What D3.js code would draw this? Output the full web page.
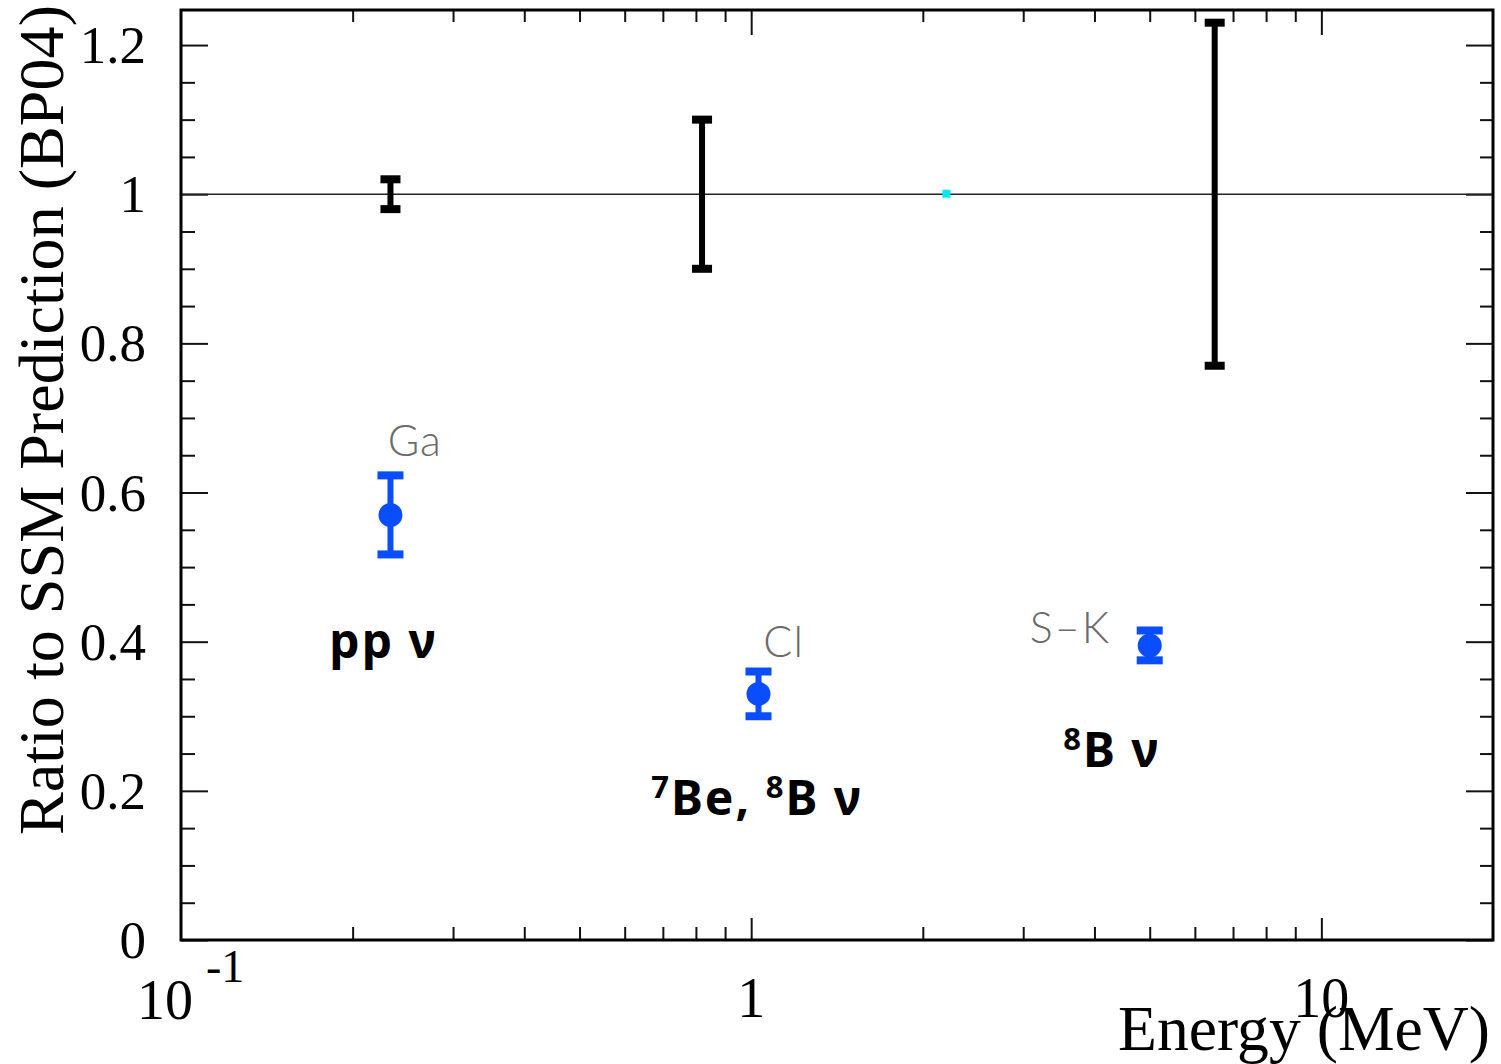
<!DOCTYPE html>
<html>
<head>
<meta charset="utf-8">
<script src="https://cdn.jsdelivr.net/npm/d3@7"></script>
<style>
  body { margin: 0; background: #fff; }
  svg { display: block; }
  .serif { font-family: "Liberation Serif", "Times New Roman", serif; }
</style>
</head>
<body>
<div id="chart"></div>
<script>
// SSM prediction bands (ratio = 1) and measured rates for each experiment
var ssmEnergy = [0.233, 0.82, 6.5];
var ssmRatio = [1, 1, 1];
var ssmErr = [0.02, 0.10, 0.23];

var expNames = ["Ga", "Cl", "S\u2013K"];
var expEnergy = [0.233, 1.03, 5.0];
var expRatio = [0.57, 0.33, 0.395];
var expErr = [0.053, 0.03, 0.02];

var markerEnergy = [2.2];
var markerRatio = [1.0];

// label anchors in data space (energy, ratio)
var expLabelEnergy = [0.257, 1.14, 3.63];
var expLabelRatio = [0.649, 0.38, 0.398];
var fluxLabels = ["pp", "7Be,8B", "8B"];
var fluxLabelEnergy = [0.2265, 1.024, 4.29];
var fluxLabelRatio = [0.378, 0.168, 0.232];

var yMajor = [0, 0.2, 0.4, 0.6, 0.8, 1, 1.2];

var svg = d3.select("#chart")
    .append("svg")
    .attr("width", 1501)
    .attr("height", 1064),
    margin = { top: 10, right: 8, bottom: 124, left: 181 },
    width = +svg.attr("width") - margin.left - margin.right,
    height = +svg.attr("height") - margin.top - margin.bottom;

var g = svg.append("g")
    .attr("transform", "translate(" + margin.left + "," + margin.top + ")");

var x = d3.scaleLog()
    .domain([0.1, 20])
    .range([0, width]);

var y = d3.scaleLinear()
    .domain([0, 1.247])
    .range([height, 0]);

var xAll = x.ticks().filter(function (d) { return d > 0.1 && d < 20; });
var isDecade = function (d) { return Math.abs(Math.log10(d) - Math.round(Math.log10(d))) < 1e-6; };
var xMinor = xAll.filter(function (d) { return !isDecade(d); });
var xMajor = xAll.filter(isDecade);
var yMinor = y.ticks(25).filter(function (d) { return yMajor.indexOf(+d.toFixed(2)) < 0; });

function styleTicks(sel) {
    sel.select(".domain").remove();
    sel.selectAll(".tick line").attr("stroke", "#111").attr("stroke-width", 2);
}

// bottom + top ticks (inside the frame)
g.append("g").attr("transform", "translate(0," + height + ")")
    .call(d3.axisBottom(x).tickValues(xMinor).tickSizeInner(-13).tickFormat(""))
    .call(styleTicks);
g.append("g").attr("transform", "translate(0," + height + ")")
    .call(d3.axisBottom(x).tickValues(xMajor).tickSizeInner(-22).tickFormat(""))
    .call(styleTicks);
g.append("g")
    .call(d3.axisTop(x).tickValues(xMinor).tickSizeInner(-12).tickFormat(""))
    .call(styleTicks);
g.append("g")
    .call(d3.axisTop(x).tickValues(xMajor).tickSizeInner(-25).tickFormat(""))
    .call(styleTicks);

// left + right ticks
g.append("g")
    .call(d3.axisLeft(y).tickValues(yMinor).tickSizeInner(-14).tickFormat(""))
    .call(styleTicks);
var yAxis = g.append("g")
    .call(d3.axisLeft(y).tickValues(yMajor).tickSizeInner(-27).tickPadding(35)
        .tickFormat(d3.format("~g")))
    .call(styleTicks);
yAxis.selectAll(".tick text")
    .attr("class", "serif")
    .attr("font-size", 53)
    .attr("fill", "#000")
    .attr("dy", "0.33em");
g.append("g").attr("transform", "translate(" + width + ",0)")
    .call(d3.axisRight(y).tickValues(yMinor).tickSizeInner(-13).tickFormat(""))
    .call(styleTicks);
g.append("g").attr("transform", "translate(" + width + ",0)")
    .call(d3.axisRight(y).tickValues(yMajor).tickSizeInner(-27).tickFormat(""))
    .call(styleTicks);

// x tick labels (ROOT style)
var xl = g.append("g").attr("class", "serif").attr("fill", "#000");
xl.append("text")
    .attr("x", x(0.1) - 16).attr("y", height + 79)
    .attr("text-anchor", "middle").attr("font-size", 56)
    .text("10");
xl.append("text")
    .attr("x", x(0.1) + 25).attr("y", height + 42)
    .attr("font-size", 46)
    .text("-1");
xMajor.forEach(function (d) {
    xl.append("text")
        .attr("x", x(d)).attr("y", height + 77)
        .attr("text-anchor", "middle").attr("font-size", 56)
        .text(d3.format("~g")(d));
});

// axis titles
g.append("text")
    .attr("class", "serif")
    .attr("x", width - 3).attr("y", height + 110)
    .attr("text-anchor", "end")
    .attr("font-size", 63)
    .attr("textLength", 372).attr("lengthAdjust", "spacingAndGlyphs")
    .text("Energy (MeV)");

g.append("text")
    .attr("class", "serif")
    .attr("transform", "rotate(-90)")
    .attr("x", -(420 - margin.top))
    .attr("y", 63 - margin.left)
    .attr("text-anchor", "middle")
    .attr("font-size", 64)
    .attr("textLength", 830).attr("lengthAdjust", "spacingAndGlyphs")
    .text("Ratio to SSM Prediction (BP04)");

// reference line at ratio = 1
g.append("line")
    .attr("x1", 0).attr("x2", width)
    .attr("y1", y(1)).attr("y2", y(1))
    .attr("stroke", "#222")
    .attr("stroke-width", 1.5);

// SSM theory error bars (black)
ssmEnergy.forEach(function (e, i) {
    var bar = g.append("g").attr("fill", "#000");
    bar.append("rect")
        .attr("x", x(e) - 3).attr("width", 6)
        .attr("y", y(ssmRatio[i] + ssmErr[i])).attr("height", y(ssmRatio[i] - ssmErr[i]) - y(ssmRatio[i] + ssmErr[i]));
    [ssmRatio[i] + ssmErr[i], ssmRatio[i] - ssmErr[i]].forEach(function (v) {
        bar.append("rect")
            .attr("x", x(e) - 10).attr("width", 20)
            .attr("y", y(v) - 4).attr("height", 8);
    });
});

// small cyan marker on the line
markerEnergy.forEach(function (e, i) {
    g.append("rect")
        .attr("x", x(e) - 4).attr("y", y(markerRatio[i]) - 4.5)
        .attr("width", 8).attr("height", 8)
        .attr("fill", "#00e8f0");
});

// measured ratios (blue)
var blue = "#0a4dfd";
expEnergy.forEach(function (e, i) {
    var pt = g.append("g").attr("fill", blue);
    pt.append("rect")
        .attr("x", x(e) - 3).attr("width", 6)
        .attr("y", y(expRatio[i] + expErr[i])).attr("height", y(expRatio[i] - expErr[i]) - y(expRatio[i] + expErr[i]));
    [expRatio[i] + expErr[i], expRatio[i] - expErr[i]].forEach(function (v) {
        pt.append("rect")
            .attr("x", x(e) - 13).attr("width", 26)
            .attr("y", y(v) - 4).attr("height", 8);
    });
    pt.append("circle")
        .attr("cx", x(e)).attr("cy", y(expRatio[i]))
        .attr("r", 12);
});

// experiment names (grey, light)
expNames.forEach(function (n, i) {
    g.append("text")
        .attr("x", x(expLabelEnergy[i])).attr("y", y(expLabelRatio[i]))
        .attr("text-anchor", "middle")
        .attr("font-family", "Lato, 'Open Sans', sans-serif")
        .attr("font-weight", 300)
        .attr("font-size", 43)
        .attr("letter-spacing", i === 2 ? 2 : 1)
        .attr("fill", "#6a6a6a")
        .text(n);
});

// flux labels (bold, with mass number superscripts)
fluxLabels.forEach(function (lab, i) {
    var t = g.append("text")
        .attr("x", x(fluxLabelEnergy[i])).attr("y", y(fluxLabelRatio[i]))
        .attr("text-anchor", "middle")
        .attr("font-family", "'Noto Sans', 'DejaVu Sans', sans-serif")
        .attr("font-weight", 700)
        .attr("font-size", 48)
        .attr("letter-spacing", 2)
        .attr("fill", "#000");
    lab.split(",").forEach(function (part, k) {
        if (k > 0) t.append("tspan").text(", ");
        var m = part.match(/^(\d+)(.*)$/);
        if (m) {
            t.append("tspan").attr("font-size", 31).attr("dy", -17).text(m[1]);
            t.append("tspan").attr("dy", 17).text(m[2]);
        } else {
            t.append("tspan").text(part);
        }
    });
    t.append("tspan").text(" \u03bd");
});

// frame
g.append("rect")
    .attr("width", width).attr("height", height)
    .attr("fill", "none")
    .attr("stroke", "#000")
    .attr("stroke-width", 3);
</script>
</body>
</html>
